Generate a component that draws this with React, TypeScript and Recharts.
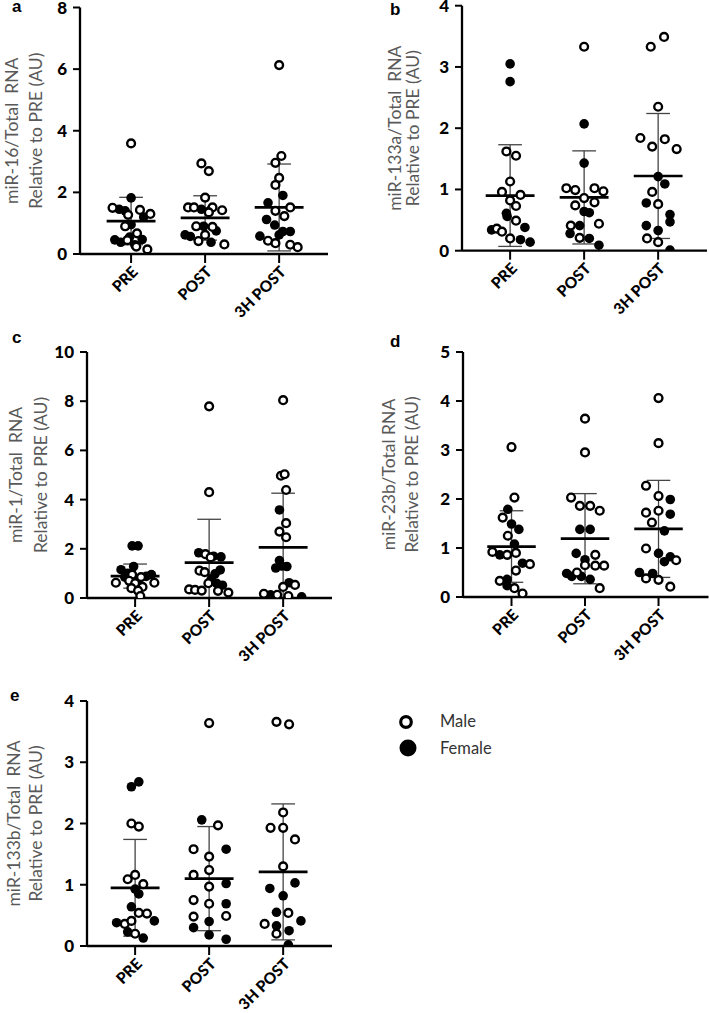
import React from 'react';
import { ScatterChart, Scatter, XAxis, YAxis, ReferenceLine, Label, Legend } from 'recharts';

type Pt = [number, number]; // [jitter within category (category units), value]

const categories = ['PRE', 'POST', '3H POST'];

// ---- panel a: miR-16 ----
const miR16Male: Pt[][] = [
  [[0, 3.59], [-0.25, 1.5], [-0.04, 1.27], [0.12, 1.43], [0.26, 1.3], [-0.08, 0.9], [0.08, 0.67], [-0.05, 0.45], [0.07, 0.24], [0.22, 0.15]],
  [[-0.05, 2.94], [0.05, 2.69], [0, 1.83], [-0.23, 1.51], [-0.15, 1.51], [0.1, 1.51], [0.23, 1.42], [0.05, 1.35], [-0.12, 0.9], [0.1, 0.88], [0, 0.62], [-0.09, 0.42], [0.26, 0.31]],
  [[0, 6.13], [0.03, 3.18], [-0.05, 2.96], [0, 2.47], [-0.05, 2.24], [0.15, 1.51], [-0.05, 1.4], [0.07, 1.23], [-0.15, 0.43], [-0.05, 0.35], [0.15, 0.3], [0.25, 0.22]],
];
const miR16Female: Pt[][] = [
  [[0, 1.82], [-0.16, 1.45], [-0.08, 1.4], [0.17, 1.2], [0, 0.95], [-0.22, 0.46], [-0.14, 0.38], [0.15, 0.47], [0.05, 0.3], [-0.02, 0.55]],
  [[-0.05, 1.45], [0.06, 1.4], [-0.02, 0.9], [0.15, 0.75], [-0.27, 0.62], [-0.2, 0.57], [0.08, 0.38]],
  [[0.05, 1.9], [-0.15, 1.66], [-0.17, 1.12], [-0.06, 0.94], [0.05, 0.73], [0.15, 0.73], [-0.26, 0.58], [0, 0.62]],
];
const miR16Mean = [1.07, 1.17, 1.51];
const miR16SD = [0.77, 0.72, 1.41];

// ---- panel b: miR-133a ----
const miR133aMale: Pt[][] = [
  [[-0.05, 1.62], [0.08, 1.55], [0, 1.13], [-0.11, 0.96], [0.14, 0.91], [0, 0.82], [0.08, 0.73], [0.08, 0.49], [-0.18, 0.36], [-0.11, 0.31], [0, 0.2]],
  [[0, 3.33], [-0.24, 1.02], [-0.12, 0.99], [0.14, 1.02], [0.26, 0.97], [0, 0.86], [0.14, 0.79], [-0.12, 0.74], [0.2, 0.44], [-0.18, 0.41], [-0.06, 0.21]],
  [[-0.1, 3.33], [0.08, 3.49], [0, 2.35], [-0.24, 1.84], [0.09, 1.82], [-0.08, 1.7], [0.25, 1.66], [-0.08, 0.96], [0, 0.76], [-0.15, 0.2], [0, 0.14]],
];
const miR133aFemale: Pt[][] = [
  [[0, 3.05], [0, 2.76], [-0.05, 0.61], [-0.04, 0.56], [0.2, 0.38], [-0.25, 0.34], [0.14, 0.18], [0.27, 0.14]],
  [[0, 2.07], [0, 1.43], [0, 0.64], [0.07, 0.62], [-0.06, 0.41], [-0.19, 0.28], [0.07, 0.2], [0.2, 0.09]],
  [[0, 1.21], [0.09, 1.09], [-0.16, 0.78], [0.16, 0.59], [0.16, 0.47], [-0.16, 0.41], [0, 0.33], [0.16, 0.01]],
];
const miR133aMean = [0.9, 0.87, 1.22];
const miR133aSD = [0.83, 0.76, 1.02];

// ---- panel c: miR-1 ----
const miR1Male: Pt[][] = [
  [[-0.26, 0.62], [0.26, 0.62], [-0.04, 0.95], [0.08, 0.85], [-0.08, 0.7], [0, 0.6], [0.1, 0.45], [-0.05, 0.4], [0.04, 0.3], [0.07, 0.08]],
  [[0, 7.79], [0, 4.3], [-0.05, 1.78], [0.02, 1.65], [-0.13, 1.11], [-0.06, 1.05], [-0.01, 0.6], [-0.27, 0.35], [-0.19, 0.33], [-0.1, 0.3], [0.12, 0.29], [0.26, 0.22]],
  [[0, 8.04], [-0.03, 4.97], [0.02, 5.03], [0.04, 4.39], [0.04, 3.04], [-0.05, 2.7], [0.04, 2.47], [0, 0.45], [0.16, 0.53], [-0.26, 0.17], [-0.08, 0.13], [0.07, 0.08]],
];
const miR1Female: Pt[][] = [
  [[-0.04, 2.12], [0.04, 2.12], [-0.02, 1.28], [-0.19, 1.15], [-0.1, 1.0], [0.22, 0.95], [0.15, 0.88], [-0.14, 0.85], [0.04, 0.7], [0.02, 0.55]],
  [[-0.14, 1.84], [0.06, 1.7], [0.16, 1.67], [0.15, 1.14], [0.08, 0.98], [0.03, 0.78], [0.18, 0.52], [0.1, 0.6]],
  [[-0.05, 3.58], [-0.05, 1.52], [-0.1, 1.22], [0.05, 1.28], [-0.02, 1.3], [0.08, 0.62], [-0.17, 0.13], [0.25, 0.05]],
];
const miR1Mean = [0.89, 1.44, 2.06];
const miR1SD = [0.49, 1.76, 2.2];

// ---- panel d: miR-23b ----
const miR23bMale: Pt[][] = [
  [[0, 3.06], [0.04, 2.03], [-0.12, 1.62], [-0.05, 1.25], [-0.26, 0.92], [-0.06, 0.86], [0.06, 0.9], [0.25, 0.67], [0.06, 0.54], [-0.16, 0.33], [0.04, 0.18], [0.15, 0.07]],
  [[0, 3.64], [0, 2.95], [-0.19, 2.03], [-0.07, 1.86], [0.07, 1.86], [0.2, 1.76], [0.14, 0.86], [0, 0.65], [0.14, 0.64], [0.26, 0.64], [-0.11, 0.5], [0.2, 0.18]],
  [[0, 4.06], [0, 3.14], [-0.17, 2.27], [0, 2.06], [-0.17, 1.72], [0, 1.76], [-0.09, 1.52], [-0.17, 0.99], [0.24, 0.75], [-0.17, 0.38], [0, 0.35], [0.16, 0.21]],
];
const miR23bFemale: Pt[][] = [
  [[-0.05, 1.79], [0, 1.49], [0.1, 1.38], [0.04, 1.08], [-0.16, 0.86], [0.15, 0.69], [-0.06, 0.36], [-0.06, 0.23]],
  [[-0.07, 1.38], [0.07, 1.38], [-0.12, 0.89], [0, 0.76], [-0.25, 0.48], [-0.18, 0.42], [-0.05, 0.42], [0.07, 0.36]],
  [[0.16, 1.99], [0.16, 1.69], [0.08, 1.35], [0, 0.89], [0.16, 0.82], [0.08, 0.72], [-0.26, 0.5], [-0.08, 0.48]],
];
const miR23bMean = [1.03, 1.19, 1.39];
const miR23bSD = [0.73, 0.92, 0.99];

// ---- panel e: miR-133b ----
const miR133bMale: Pt[][] = [
  [[-0.05, 2.0], [0.05, 1.95], [0, 1.16], [-0.1, 1.09], [0.11, 1.01], [0.05, 0.54], [0.16, 0.53], [-0.14, 0.36], [-0.05, 0.41], [0, 0.2]],
  [[0, 3.64], [0.12, 1.97], [-0.21, 1.58], [0, 1.46], [0, 1.24], [-0.21, 1.16], [0, 0.97], [-0.21, 0.75], [0, 0.69], [-0.21, 0.48], [0.23, 0.49]],
  [[-0.09, 3.66], [0.08, 3.62], [0, 2.18], [-0.17, 1.93], [0, 1.93], [0.16, 1.74], [0, 1.3], [0.07, 0.54], [-0.25, 0.36], [-0.09, 0.2]],
];
const miR133bFemale: Pt[][] = [
  [[-0.05, 2.6], [0.05, 2.68], [0, 0.93], [0.05, 0.85], [-0.05, 0.64], [-0.25, 0.38], [0.26, 0.41], [-0.1, 0.23], [0.11, 0.13]],
  [[-0.1, 2.06], [0.23, 1.58], [0.23, 1.02], [0.23, 0.69], [0, 0.4], [-0.21, 0.3], [0, 0.18], [0.23, 0.11]],
  [[-0.18, 0.94], [0.16, 1.03], [0, 0.82], [-0.09, 0.55], [0.24, 0.41], [-0.09, 0.33], [0.08, 0.25], [0.07, 0.02]],
];
const miR133bMean = [0.95, 1.1, 1.21];
const miR133bSD = [0.79, 0.85, 1.11];

const legendLabels = ['Male', 'Female'];

// ---------------------------------------------------------------
const toPoints = (groups: Pt[][]) =>
  groups.flatMap((g, ci) => g.map(([dx, y]) => ({ x: ci + dx, y })));

const OpenDot = (p: any) => (
  <circle cx={p.cx} cy={p.cy} r={3.9} fill="#fff" stroke="#000" strokeWidth={2.4} />
);
const FilledDot = (p: any) => <circle cx={p.cx} cy={p.cy} r={4.8} fill="#000" />;

const XTick = (p: any) => {
  const { x, y, payload } = p;
  const ax = x + 4;
  const ay = y + 4;
  return (
    <text
      x={ax}
      y={ay}
      transform={`rotate(-45, ${ax}, ${ay})`}
      textAnchor="end"
      dy="0.35em"
      fontFamily="Lato"
      fontWeight={900}
      fontSize={15.5}
      fill="#000"
    >
      {categories[payload.value]}
    </text>
  );
};

type Cfg = {
  L: number; T: number; W: number; H: number;
  pl: number; pr: number; pt: number; pb: number;
  xDomain: [number, number];
  yMax: number; yTicks: number[];
  line1: string; line2: string; off1: number; off2: number;
};

const YW = 50;
const XH = 50;

function Panel({ cfg, male, female, mean, sd, legend }: { cfg: Cfg; male: Pt[][]; female: Pt[][]; mean: number[]; sd: number[]; legend?: boolean }) {
  const margin = {
    left: cfg.pl - cfg.L - YW,
    top: cfg.pt - cfg.T,
    right: cfg.L + cfg.W - cfg.pr,
    bottom: cfg.T + cfg.H - cfg.pb - XH,
  };
  const plotLeft = cfg.pl - cfg.L;
  const plotMidY = (cfg.pt + cfg.pb) / 2 - cfg.T;
  const labelStyle = { fontFamily: 'Lato', fontSize: 17.5, fill: '#595959', whiteSpace: 'pre' as const };
  const AxisTitle = () => (
    <g>
      <text x={plotLeft + cfg.off1} y={plotMidY} transform={`rotate(-90, ${plotLeft + cfg.off1}, ${plotMidY})`} textAnchor="middle" style={labelStyle}>
        {cfg.line1}
      </text>
      <text x={plotLeft + cfg.off2} y={plotMidY} transform={`rotate(-90, ${plotLeft + cfg.off2}, ${plotMidY})`} textAnchor="middle" style={labelStyle}>
        {cfg.line2}
      </text>
    </g>
  );
  const refs: React.ReactNode[] = [];
  mean.forEach((m, i) => {
    const hi = m + sd[i];
    const lo = Math.max(0, m - sd[i]);
    refs.push(<ReferenceLine key={`v${i}`} segment={[{ x: i, y: lo }, { x: i, y: hi }]} stroke="#444" strokeWidth={1.3} />);
    refs.push(<ReferenceLine key={`t${i}`} segment={[{ x: i - 0.16, y: hi }, { x: i + 0.16, y: hi }]} stroke="#444" strokeWidth={1.3} />);
    if (m - sd[i] > 0) {
      refs.push(<ReferenceLine key={`b${i}`} segment={[{ x: i - 0.16, y: lo }, { x: i + 0.16, y: lo }]} stroke="#444" strokeWidth={1.3} />);
    }
    refs.push(<ReferenceLine key={`m${i}`} segment={[{ x: i - 0.33, y: m }, { x: i + 0.33, y: m }]} stroke="#000" strokeWidth={2.7} />);
  });
  return (
    <div style={{ position: 'absolute', left: cfg.L, top: cfg.T }}>
      <ScatterChart width={cfg.W} height={cfg.H} margin={margin}>
        <XAxis
          type="number"
          dataKey="x"
          domain={cfg.xDomain}
          ticks={[0, 1, 2]}
          interval={0}
          allowDataOverflow
          height={XH}
          axisLine={{ stroke: '#000', strokeWidth: 2.3 }}
          tickLine={{ stroke: '#000', strokeWidth: 2 }}
          tickSize={9}
          tick={<XTick />}
        />
        <YAxis
          type="number"
          dataKey="y"
          domain={[0, cfg.yMax]}
          ticks={cfg.yTicks}
          interval={0}
          allowDataOverflow
          width={YW}
          axisLine={{ stroke: '#000', strokeWidth: 2.3 }}
          tickLine={{ stroke: '#000', strokeWidth: 2 }}
          tickSize={7}
          tickMargin={6}
          tick={{ fill: '#000', fontFamily: 'Lato', fontWeight: 900, fontSize: 17 }}
        >
          <Label content={<AxisTitle />} />
        </YAxis>
        {refs}
        <Scatter name={legendLabels[1]} data={toPoints(female)} shape={FilledDot} isAnimationActive={false} legendType="circle" />
        <Scatter name={legendLabels[0]} data={toPoints(male)} shape={OpenDot} isAnimationActive={false} legendType="circle" />
        {legend && (
          <Legend
            layout="vertical"
            align="center"
            verticalAlign="middle"
            wrapperStyle={{ position: 'absolute', left: 395, top: cfg.pt - cfg.T + 4, width: 130, height: 60, margin: 0, padding: 0 }}
            content={() => (
              <svg width={130} height={60}>
                <circle cx={11} cy={17} r={5.3} fill="#fff" stroke="#000" strokeWidth={3.2} />
                <circle cx={13} cy={43} r={8.5} fill="#000" />
                <text x={45} y={22} fontFamily="Lato" fontSize={16.5} fill="#333">{legendLabels[0]}</text>
                <text x={45} y={49} fontFamily="Lato" fontSize={16.5} fill="#333">{legendLabels[1]}</text>
              </svg>
            )}
          />
        )}
      </ScatterChart>
    </div>
  );
}

const cfgA: Cfg = { L: 0, T: -12, W: 345, H: 332, pl: 80, pr: 328, pt: 7.5, pb: 254, xDomain: [-0.69, 2.66], yMax: 8, yTicks: [0, 2, 4, 6, 8], line1: 'miR-16/Total  RNA', line2: 'Relative to PRE (AU)', off1: -62, off2: -38.5 };
const cfgB: Cfg = { L: 355, T: -12, W: 354, H: 332, pl: 462, pr: 707, pt: 5.7, pb: 250.7, xDomain: [-0.65, 2.66], yMax: 4, yTicks: [0, 1, 2, 3, 4], line1: 'miR-133a/Total  RNA', line2: 'Relative to PRE (AU)', off1: -61, off2: -43 };
const cfgC: Cfg = { L: 0, T: 322, W: 345, H: 345, pl: 87, pr: 332, pt: 352, pb: 598, xDomain: [-0.65, 2.66], yMax: 10, yTicks: [0, 2, 4, 6, 8, 10], line1: 'miR-1/Total  RNA', line2: 'Relative to PRE (AU)', off1: -65, off2: -40 };
const cfgD: Cfg = { L: 355, T: 322, W: 354, H: 345, pl: 463, pr: 708.5, pt: 352, pb: 597, xDomain: [-0.66, 2.68], yMax: 5, yTicks: [0, 1, 2, 3, 4, 5], line1: 'miR-23b/Total RNA', line2: 'Relative to PRE (AU)', off1: -68, off2: -45 };
const cfgE: Cfg = { L: 0, T: 670, W: 709, H: 343, pl: 87, pr: 332, pt: 701, pb: 946, xDomain: [-0.65, 2.66], yMax: 4, yTicks: [0, 1, 2, 3, 4], line1: 'miR-133b/Total  RNA', line2: 'Relative to PRE (AU)', off1: -67, off2: -45 };

const panelLetters: { t: string; x: number; y: number }[] = [
  { t: 'a', x: 12, y: 12 },
  { t: 'b', x: 390, y: 15 },
  { t: 'c', x: 12, y: 343 },
  { t: 'd', x: 390, y: 347 },
  { t: 'e', x: 10, y: 701 },
];

export default function App() {
  return (
    <div style={{ position: 'absolute', left: 0, top: 0, width: 709, height: 1013, background: '#fff', overflow: 'hidden' }}>
      <Panel cfg={cfgA} male={miR16Male} female={miR16Female} mean={miR16Mean} sd={miR16SD} />
      <Panel cfg={cfgB} male={miR133aMale} female={miR133aFemale} mean={miR133aMean} sd={miR133aSD} />
      <Panel cfg={cfgC} male={miR1Male} female={miR1Female} mean={miR1Mean} sd={miR1SD} />
      <Panel cfg={cfgD} male={miR23bMale} female={miR23bFemale} mean={miR23bMean} sd={miR23bSD} />
      <Panel cfg={cfgE} male={miR133bMale} female={miR133bFemale} mean={miR133bMean} sd={miR133bSD} legend />
      <svg width={709} height={1013} style={{ position: 'absolute', left: 0, top: 0, pointerEvents: 'none' }}>
        {panelLetters.map((l) => (
          <text key={l.t} x={l.x} y={l.y} fontFamily="Liberation Sans" fontWeight={700} fontSize={17} fill="#000">
            {l.t}
          </text>
        ))}
      </svg>
    </div>
  );
}
